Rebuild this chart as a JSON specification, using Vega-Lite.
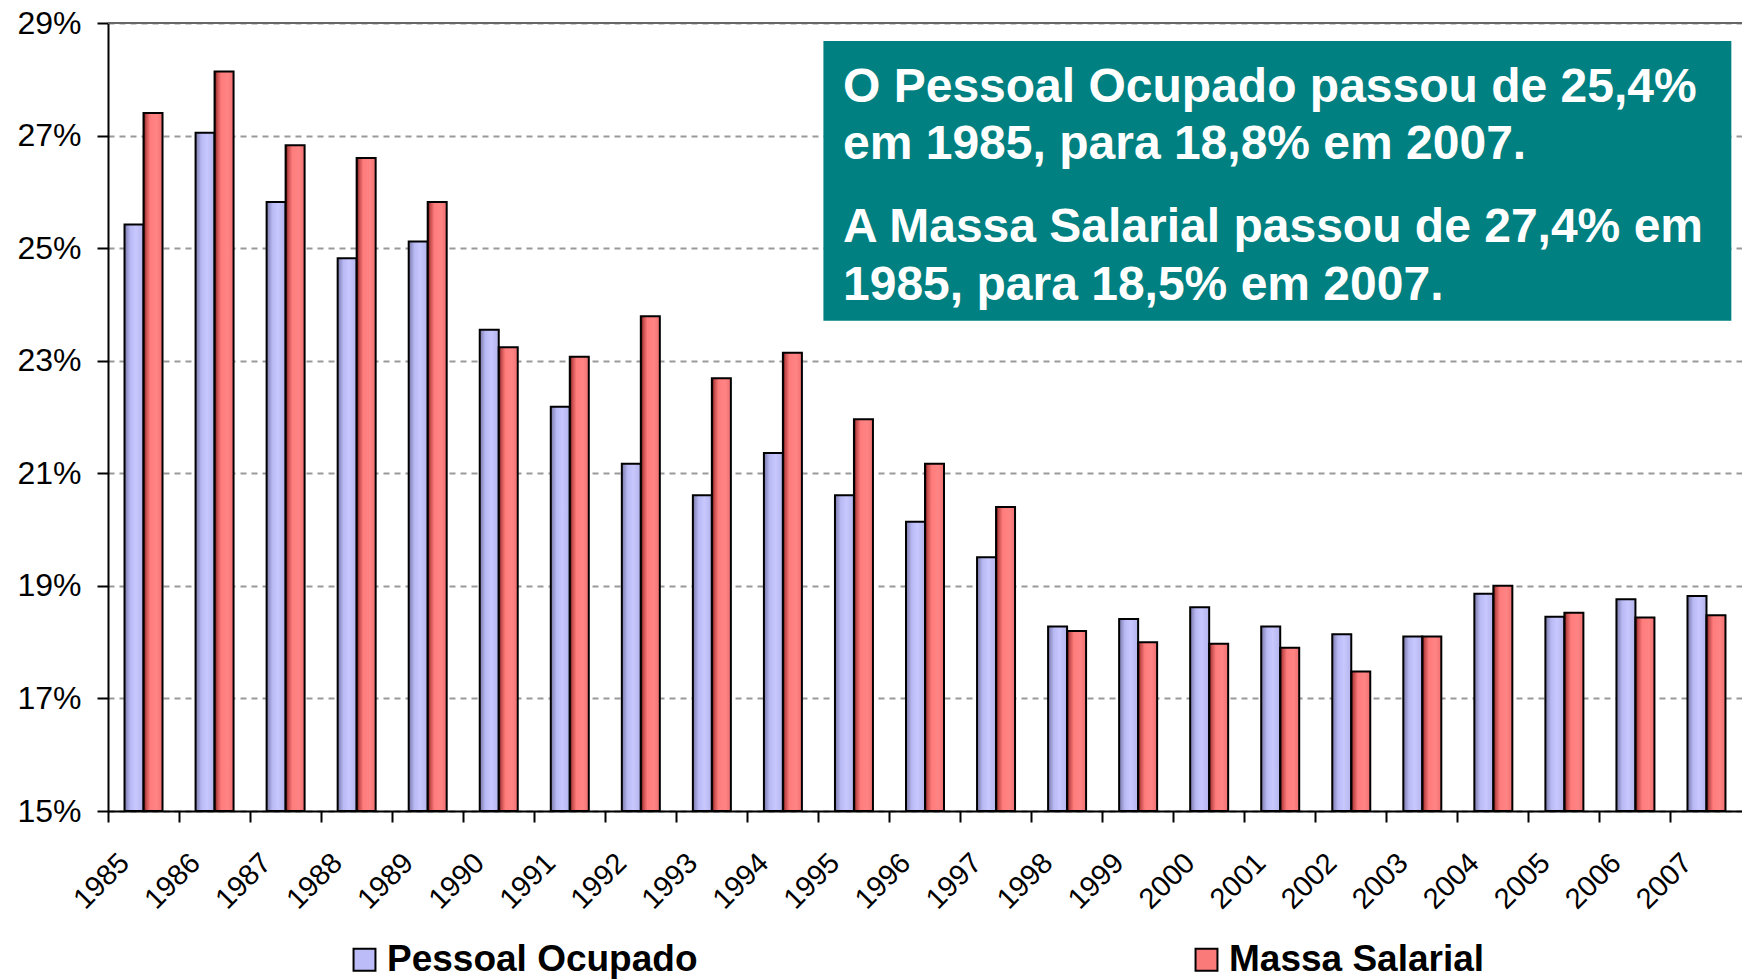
{
  "$schema": "https://vega.github.io/schema/vega-lite/v6.json",
  "width": 1634,
  "height": 788,
  "autosize": "none",
  "padding": {"left": 108, "top": 23, "right": 0, "bottom": 168},
  "background": "white",
  "config": {"view": {"stroke": null}, "font": "Liberation Sans"},
  "layer": [
    {
      "data": {"values": [
        {"year": "1985", "serie": "Pessoal Ocupado", "valor": 25.42},
        {"year": "1986", "serie": "Pessoal Ocupado", "valor": 27.05},
        {"year": "1987", "serie": "Pessoal Ocupado", "valor": 25.82},
        {"year": "1988", "serie": "Pessoal Ocupado", "valor": 24.82},
        {"year": "1989", "serie": "Pessoal Ocupado", "valor": 25.12},
        {"year": "1990", "serie": "Pessoal Ocupado", "valor": 23.55},
        {"year": "1991", "serie": "Pessoal Ocupado", "valor": 22.18},
        {"year": "1992", "serie": "Pessoal Ocupado", "valor": 21.17},
        {"year": "1993", "serie": "Pessoal Ocupado", "valor": 20.61},
        {"year": "1994", "serie": "Pessoal Ocupado", "valor": 21.36},
        {"year": "1995", "serie": "Pessoal Ocupado", "valor": 20.61},
        {"year": "1996", "serie": "Pessoal Ocupado", "valor": 20.14},
        {"year": "1997", "serie": "Pessoal Ocupado", "valor": 19.51},
        {"year": "1998", "serie": "Pessoal Ocupado", "valor": 18.28},
        {"year": "1999", "serie": "Pessoal Ocupado", "valor": 18.41},
        {"year": "2000", "serie": "Pessoal Ocupado", "valor": 18.62},
        {"year": "2001", "serie": "Pessoal Ocupado", "valor": 18.28},
        {"year": "2002", "serie": "Pessoal Ocupado", "valor": 18.14},
        {"year": "2003", "serie": "Pessoal Ocupado", "valor": 18.10},
        {"year": "2004", "serie": "Pessoal Ocupado", "valor": 18.86},
        {"year": "2005", "serie": "Pessoal Ocupado", "valor": 18.45},
        {"year": "2006", "serie": "Pessoal Ocupado", "valor": 18.76},
        {"year": "2007", "serie": "Pessoal Ocupado", "valor": 18.82},
        {"year": "1985", "serie": "Massa Salarial", "valor": 27.40},
        {"year": "1986", "serie": "Massa Salarial", "valor": 28.14},
        {"year": "1987", "serie": "Massa Salarial", "valor": 26.83},
        {"year": "1988", "serie": "Massa Salarial", "valor": 26.60},
        {"year": "1989", "serie": "Massa Salarial", "valor": 25.82},
        {"year": "1990", "serie": "Massa Salarial", "valor": 23.24},
        {"year": "1991", "serie": "Massa Salarial", "valor": 23.07},
        {"year": "1992", "serie": "Massa Salarial", "valor": 23.79},
        {"year": "1993", "serie": "Massa Salarial", "valor": 22.69},
        {"year": "1994", "serie": "Massa Salarial", "valor": 23.14},
        {"year": "1995", "serie": "Massa Salarial", "valor": 21.96},
        {"year": "1996", "serie": "Massa Salarial", "valor": 21.17},
        {"year": "1997", "serie": "Massa Salarial", "valor": 20.40},
        {"year": "1998", "serie": "Massa Salarial", "valor": 18.20},
        {"year": "1999", "serie": "Massa Salarial", "valor": 18.00},
        {"year": "2000", "serie": "Massa Salarial", "valor": 17.97},
        {"year": "2001", "serie": "Massa Salarial", "valor": 17.90},
        {"year": "2002", "serie": "Massa Salarial", "valor": 17.48},
        {"year": "2003", "serie": "Massa Salarial", "valor": 18.10},
        {"year": "2004", "serie": "Massa Salarial", "valor": 19.00},
        {"year": "2005", "serie": "Massa Salarial", "valor": 18.52},
        {"year": "2006", "serie": "Massa Salarial", "valor": 18.44},
        {"year": "2007", "serie": "Massa Salarial", "valor": 18.48}
      ]},
      "mark": {"type": "bar", "stroke": "black", "strokeWidth": 2, "opacity": 1},
      "encoding": {
        "x": {
          "field": "year", "type": "ordinal",
          "scale": {"paddingInner": 0, "paddingOuter": 0},
          "axis": {
            "title": null, "labelAngle": -45, "bandPosition": 0, "labelOffset": -29,
            "labelFontSize": 29, "labelColor": "black", "labelPadding": 26,
            "tickColor": "black", "tickSize": 11, "tickWidth": 2,
            "domainColor": "black", "domainWidth": 2, "grid": false
          }
        },
        "xOffset": {
          "field": "serie", "type": "nominal",
          "sort": ["Pessoal Ocupado", "Massa Salarial"],
          "scale": {"paddingInner": 0, "paddingOuter": 0.87}
        },
        "y": {
          "field": "valor", "type": "quantitative",
          "scale": {"domain": [15, 29], "zero": false, "nice": false},
          "axis": {
            "title": null, "values": [15, 17, 19, 21, 23, 25, 27, 29],
            "labelExpr": "datum.value + '%'", "labelFontSize": 32, "labelColor": "black",
            "labelPadding": 16, "tickSize": 11, "tickColor": "black", "tickWidth": 2,
            "domainColor": "black", "domainWidth": 2,
            "grid": true, "gridDash": [6, 5], "gridColor": "#999999", "gridWidth": 2
          }
        },
        "y2": {"datum": 15},
        "fill": {
          "condition": {
            "test": "datum.serie === 'Pessoal Ocupado'",
            "value": {"gradient": "linear", "x1": 0, "x2": 1, "y1": 0, "y2": 0,
              "stops": [
                {"offset": 0, "color": "#7878A8"},
                {"offset": 0.3, "color": "#B8B8F4"},
                {"offset": 0.6, "color": "#C8C8FF"},
                {"offset": 1, "color": "#B4B4EC"}
              ]}
          },
          "value": {"gradient": "linear", "x1": 0, "x2": 1, "y1": 0, "y2": 0,
            "stops": [
              {"offset": 0, "color": "#400000"},
              {"offset": 0.12, "color": "#C04848"},
              {"offset": 0.35, "color": "#FF7C7C"},
              {"offset": 0.7, "color": "#FF8484"},
              {"offset": 1, "color": "#F07070"}
            ]}
        }
      }
    },
    {
      "data": {"values": [{"serie": "Pessoal Ocupado"}, {"serie": "Massa Salarial"}]},
      "mark": {"type": "square", "size": 0, "filled": true, "stroke": "black", "strokeWidth": 0, "opacity": 1},
      "encoding": {
        "color": {
          "field": "serie", "type": "nominal",
          "sort": ["Pessoal Ocupado", "Massa Salarial"],
          "scale": {"domain": ["Pessoal Ocupado", "Massa Salarial"], "range": ["#BCBCF8", "#FA7A7A"]},
          "legend": {
            "orient": "none", "legendX": 238, "legendY": 918, "direction": "horizontal",
            "title": null, "symbolType": "square", "symbolSize": 480,
            "symbolStrokeColor": "black", "symbolStrokeWidth": 2, "symbolOpacity": 1,
            "labelFontSize": 37, "labelFontWeight": "bold", "labelColor": "black",
            "labelLimit": 600, "columnPadding": 490, "labelOffset": 4, "padding": 0
          }
        }
      }
    },
    {
      "data": {"values": [{"top": 29}]},
      "mark": {"type": "rule", "color": "#666666", "strokeWidth": 2},
      "encoding": {"y": {"field": "top", "type": "quantitative", "scale": {"domain": [15, 29]}, "axis": {"title": null}}}
    },
    {
      "data": {"values": [{"x1": 10.07, "x2": 22.85, "y1": 28.68, "y2": 23.71}]},
      "mark": {"type": "rect", "color": "#008080", "opacity": 1},
      "encoding": {
        "x": {"field": "x1", "type": "quantitative", "scale": {"domain": [0, 23]}, "axis": null},
        "x2": {"field": "x2"},
        "y": {"field": "y1", "type": "quantitative", "scale": {"domain": [15, 29]}, "axis": {"title": null}},
        "y2": {"field": "y2"}
      }
    },
    {
      "data": {"values": [
        {"tx": 10.346, "ty": 27.596, "t": "O Pessoal Ocupado passou de 25,4%"},
        {"tx": 10.346, "ty": 26.584, "t": "em 1985, para 18,8% em 2007."},
        {"tx": 10.346, "ty": 25.109, "t": "A Massa Salarial passou de 27,4% em"},
        {"tx": 10.346, "ty": 24.079, "t": "1985, para 18,5% em 2007."}
      ]},
      "mark": {"type": "text", "align": "left", "baseline": "alphabetic", "color": "white", "fontSize": 48, "fontWeight": "bold", "font": "Liberation Sans"},
      "encoding": {
        "x": {"field": "tx", "type": "quantitative", "scale": {"domain": [0, 23]}, "axis": null},
        "y": {"field": "ty", "type": "quantitative", "scale": {"domain": [15, 29]}, "axis": {"title": null}},
        "text": {"field": "t"}
      }
    }
  ],
  "resolve": {"scale": {"x": "independent"}}
}
